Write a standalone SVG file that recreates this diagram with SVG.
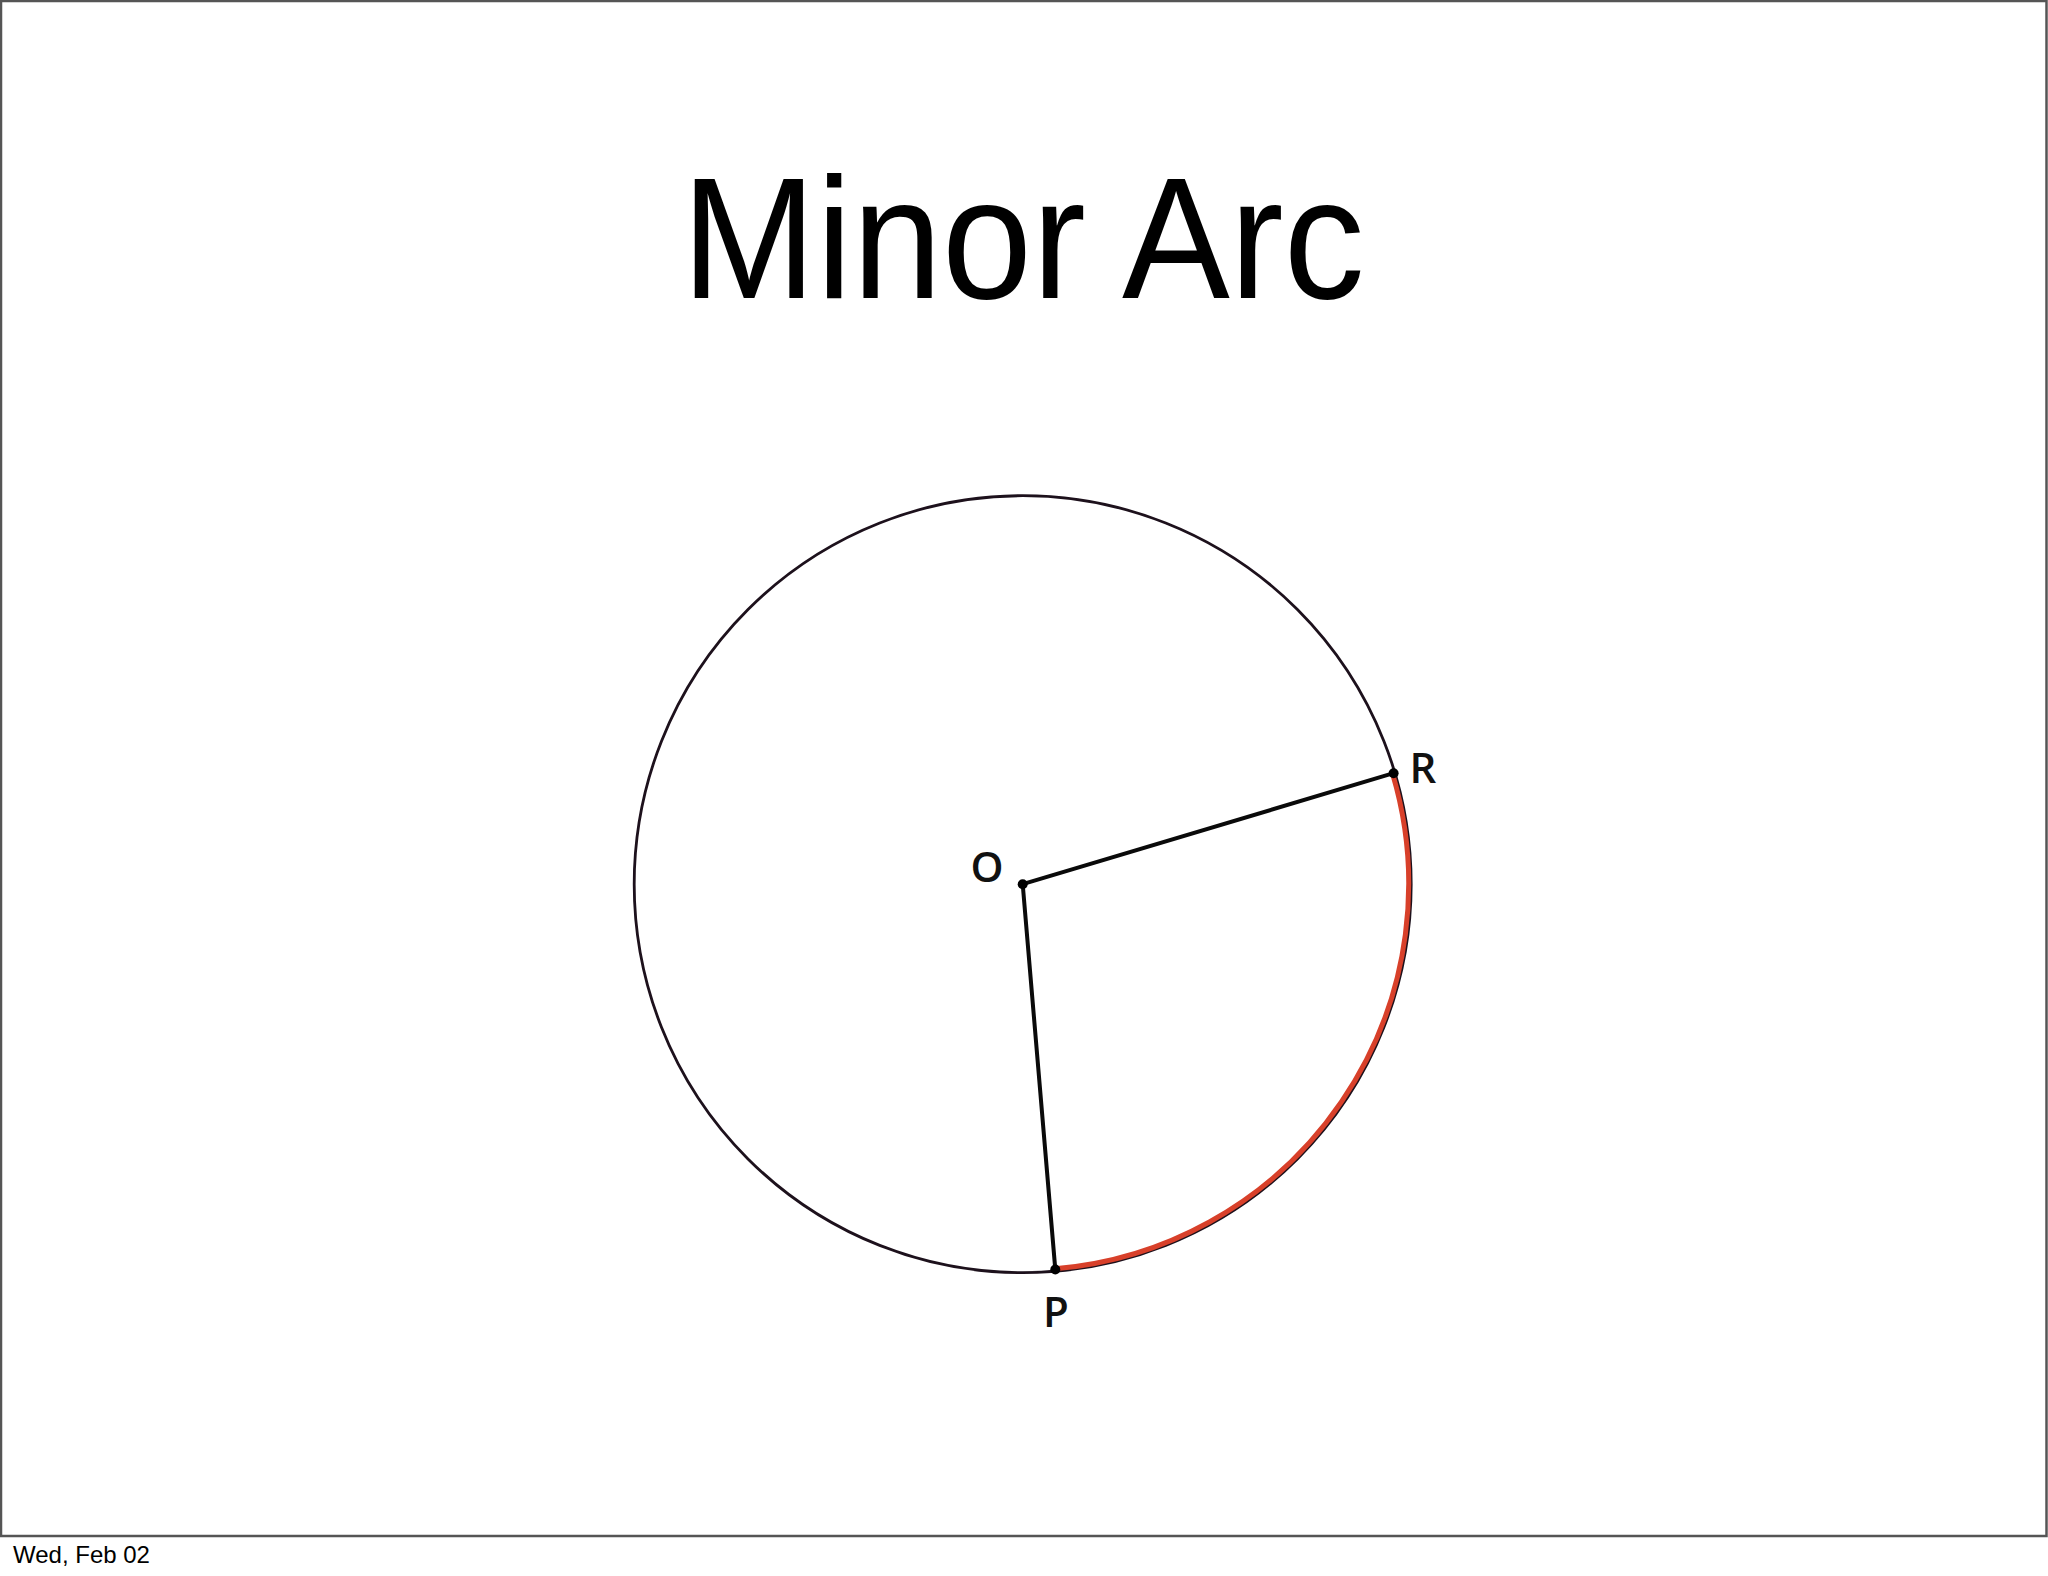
<svg xmlns="http://www.w3.org/2000/svg" width="2048" height="1576" viewBox="0 0 2048 1576">
<style>
.frame{fill:#ffffff;stroke:#555;stroke-width:2.5}
.title{font-family:"Gill Sans","Liberation Sans",Arial,sans-serif;font-size:173px;fill:#000}
.lbl{font-family:"Open Sans","Liberation Sans",sans-serif;font-size:42px;font-weight:600;fill:#111}
.foot{font-family:"Liberation Sans",Arial,sans-serif;font-size:24px;fill:#000}
.circ{fill:none;stroke:#1d111c;stroke-width:2.8}
.rad{stroke:#0a0a0a;stroke-width:4;stroke-linecap:round}
.arc{fill:none;stroke:#d8402a;stroke-width:5}
.dot{fill:#000}
</style>
<rect x="0" y="0" width="2048" height="1576" fill="#ffffff"/>
<rect class="frame" x="1" y="1" width="2045.5" height="1535"/>
<text class="title" x="1023" y="298" text-anchor="middle" textLength="683" lengthAdjust="spacingAndGlyphs">Minor Arc</text>
<g id="circle">
<circle class="circ" cx="1022.7" cy="884.2" r="388.5"/>
</g>
<g id="connectors">
<line class="rad" x1="1022.7" y1="884.2" x2="1393.6" y2="773.2"/>
<line class="rad" x1="1022.7" y1="884.2" x2="1055.3" y2="1269.5"/>
<path class="arc" d="M1392.6 773.9 A386 386 0 0 1 1055 1268.8"/>
</g>
<g id="node-O">
<circle class="dot" cx="1022.7" cy="884.2" r="5"/>
<text class="lbl" x="987" y="882" text-anchor="middle">O</text>
</g>
<g id="node-R">
<circle class="dot" cx="1393.6" cy="773.2" r="5"/>
<text class="lbl" x="1423" y="783" text-anchor="middle">R</text>
</g>
<g id="node-P">
<circle class="dot" cx="1055.3" cy="1269.5" r="5"/>
<text class="lbl" x="1056" y="1327" text-anchor="middle">P</text>
</g>
<text class="foot" x="13" y="1563">Wed, Feb 02</text>
</svg>
